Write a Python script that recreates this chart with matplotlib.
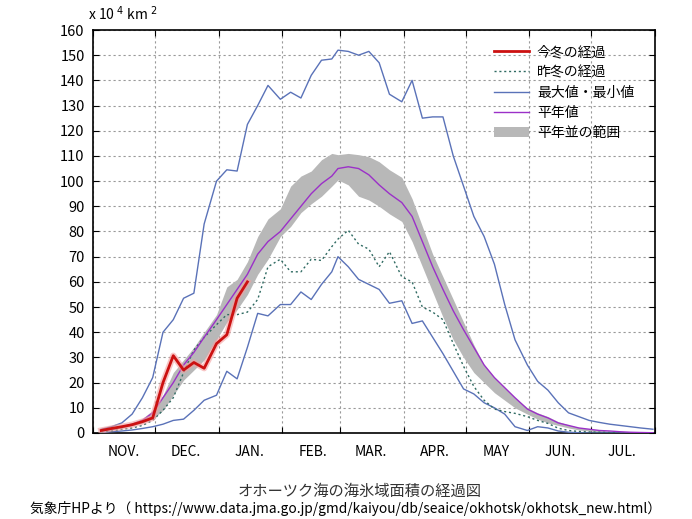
import matplotlib
matplotlib.use("Agg")
import matplotlib.pyplot as plt
import matplotlib.dates as mdates
import matplotlib.patheffects as pe
from matplotlib.patches import Patch
from matplotlib.lines import Line2D
import pandas as pd
import numpy as np

plt.rcParams['font.family'] = ['Noto Sans CJK JP', 'DejaVu Sans']

# 5-day steps: 5, 10, 15, 20, 25 and last day of each month, Nov -> Jul
months = pd.date_range('2024-11-01', periods=9, freq='MS')
dates = []
for m in months:
    for d in [5, 10, 15, 20, 25]:
        dates.append(m + pd.Timedelta(days=d - 1))
    dates.append(m + pd.offsets.MonthEnd(0))
dates = pd.DatetimeIndex(dates)

# this winter (up to Jan 15)
this_winter = [1.0, 1.8, 2.5, 3.3, 4.5, 6.0,
               20.0, 30.7, 25.0, 28.0, 25.7, 35.5,
               39.0, 53.5, 60.0]

# last winter
last_winter = [0.3, 0.8, 1.5, 2.0, 3.0, 5.0,
               9.0, 14.0, 24.0, 33.0, 38.0, 43.0,
               47.0, 47.0, 48.0, 53.0, 66.0, 69.0,
               64.0, 64.0, 69.0, 68.5, 74.0, 77.0,
               80.5, 75.0, 73.0, 66.0, 72.0, 62.0,
               60.0, 50.0, 48.0, 45.0, 35.5, 26.5,
               18.5, 13.0, 9.5, 8.5, 7.8, 6.5,
               5.0, 3.8, 1.9, 1.0, 0.6, 0.4,
               0.3, 0.2, 0.1, 0.1, 0.0, 0.0]

max_val = [1.5, 2.5, 4.0, 7.5, 14.0, 22.0,
           40.0, 45.0, 53.5, 55.5, 83.0, 100.0,
           104.5, 104.0, 122.5, 130.0, 138.0, 132.5,
           135.3, 133.0, 142.0, 148.0, 148.5, 152.0,
           151.5, 150.0, 151.5, 147.0, 134.5, 131.5,
           140.0, 125.0, 125.5, 125.5, 110.0, 98.0,
           86.0, 78.0, 67.0, 51.0, 37.0, 27.0,
           20.5, 17.0, 12.0, 8.0, 6.5, 5.0,
           4.2, 3.5, 3.0, 2.5, 2.0, 1.5]

min_val = [0.2, 0.5, 0.8, 1.2, 1.8, 2.5,
           3.5, 5.0, 5.5, 9.0, 13.0, 15.0,
           24.5, 21.5, 34.0, 47.5, 46.5, 51.0,
           51.0, 56.0, 53.0, 59.0, 64.0, 70.0,
           66.0, 61.0, 59.0, 57.0, 51.5, 52.5,
           43.5, 44.5, 38.0, 31.5, 24.5, 17.5,
           15.5, 12.0, 10.0, 7.5, 2.5, 1.0,
           2.5, 2.0, 0.8, 0.3, 0.1, 0.0,
           0.0, 0.0, 0.0, 0.0, 0.0, 0.0]

normal = [1.0, 1.5, 2.5, 3.5, 5.0, 8.0,
          14.0, 20.0, 27.0, 32.0, 38.0, 45.0,
          51.0, 57.0, 63.0, 71.0, 76.0, 80.0,
          85.0, 90.0, 95.0, 99.0, 102.0, 105.0,
          105.7, 105.0, 102.5, 98.5, 95.0, 91.5,
          86.0, 76.0, 66.0, 57.0, 48.5, 41.0,
          34.0, 27.0, 22.0, 18.0, 14.0, 9.5,
          7.5, 6.0, 4.0, 3.0, 2.0, 1.5,
          1.0, 0.8, 0.5, 0.3, 0.2, 0.1]

band_hi = [1.2, 1.8, 2.8, 4.0, 5.8, 9.0,
           15.0, 24.0, 29.0, 34.0, 40.0, 47.0,
           58.0, 61.0, 68.0, 78.0, 85.0, 89.0,
           98.0, 102.0, 104.0, 108.5, 111.0, 110.5,
           111.0, 110.5, 109.7, 107.7, 104.5, 101.5,
           93.0, 82.0, 71.0, 62.0, 53.0, 44.0,
           35.0, 27.0, 22.0, 18.0, 14.0, 10.0,
           8.0, 6.5, 4.5, 3.2, 2.2, 1.6,
           1.1, 0.8, 0.5, 0.3, 0.2, 0.1]

band_lo = [0.8, 1.2, 2.0, 3.0, 4.0, 5.5,
           9.0, 15.0, 21.0, 25.0, 29.0, 37.0,
           44.0, 49.0, 55.0, 63.0, 69.0, 78.0,
           82.0, 87.5, 91.0, 94.0, 98.0, 100.5,
           98.5, 94.0, 92.5, 90.0, 87.0, 84.0,
           76.0, 66.0, 56.0, 46.0, 37.0, 30.0,
           24.0, 20.0, 16.0, 13.0, 10.0, 7.5,
           5.5, 4.0, 3.0, 2.0, 1.2, 0.8,
           0.4, 0.2, 0.1, 0.0, 0.0, 0.0]

month_labels = ['NOV.', 'DEC.', 'JAN.', 'FEB.', 'MAR.', 'APR.', 'MAY', 'JUN.', 'JUL.']

red = '#cc1111'
blue = '#5a72b8'
purple = '#9b30c8'
grey = '#b8b8b8'
dotc = '#2f6a62'

fig = plt.figure(figsize=(6.92, 5.19), dpi=100)
ax = fig.add_axes([93/692, 1-433/519, (655-93)/692, (433-30)/519])

ax.fill_between(dates, band_lo, band_hi, color=grey, lw=0, zorder=2)
ax.plot(dates, max_val, color=blue, lw=1.0, zorder=3)
ax.plot(dates, min_val, color=blue, lw=1.0, zorder=3)
ax.plot(dates, last_winter, color=dotc, lw=1.0, ls=(0, (1.5, 2)), zorder=4)
ax.plot(dates, normal, color=purple, lw=1.0, zorder=4)
ax.plot(dates[:len(this_winter)], this_winter, color=red, lw=2.0, zorder=5,
        path_effects=[pe.Stroke(linewidth=4.5, foreground='#f4a0a0', alpha=0.6), pe.Normal()])

ax.set_xlim(pd.Timestamp('2024-11-01'), pd.Timestamp('2025-08-01'))
ax.set_ylim(0, 160)
ax.set_yticks(np.arange(0, 161, 10))

ax.xaxis.set_major_locator(mdates.MonthLocator())
ax.xaxis.set_major_formatter(plt.NullFormatter())
ax.set_xticks(months + pd.Timedelta(days=15), minor=True)
ax.set_xticklabels(month_labels, minor=True)

ax.tick_params(axis='both', which='major', direction='in', length=4, width=0.8,
               top=True, right=True, labelsize=10.5)
ax.tick_params(axis='x', which='minor', length=0, pad=9, labelsize=10)
ax.tick_params(axis='y', pad=6)

ax.grid(True, which='major', color='#999999', ls=(0, (2, 2.5)), lw=0.8)
ax.set_axisbelow(True)
for s in ax.spines.values():
    s.set_linewidth(1.2)

handles = [Line2D([], [], color=red, lw=2.0),
           Line2D([], [], color=dotc, lw=1.0, ls=(0, (1.5, 2))),
           Line2D([], [], color=blue, lw=1.0),
           Line2D([], [], color=purple, lw=1.0),
           Patch(facecolor=grey, edgecolor='none')]
labels = ['今冬の経過', '昨冬の経過', '最大値・最小値', '平年値', '平年並の範囲']
ax.legend(handles, labels, loc='upper left', bbox_to_anchor=(0.701, 0.98),
          frameon=False, fontsize=10, handlelength=2.5, handletextpad=0.6,
          labelspacing=0.45, borderpad=0)

fig.text(88/692, 1-14/519, r'x 10 $^{4}$ km $^{2}$', fontsize=10, ha='left', va='center')
fig.text(360/692, 1-491/519, 'オホーツク海の海氷域面積の経過図', fontsize=11,
         ha='center', va='center', color='#333333')
fig.text(346/692, 1-508/519,
         '気象庁HPより（ https://www.data.jma.go.jp/gmd/kaiyou/db/seaice/okhotsk/okhotsk_new.html）',
         fontsize=9.9, ha='center', va='center')

fig.savefig('out.png', dpi=100)
